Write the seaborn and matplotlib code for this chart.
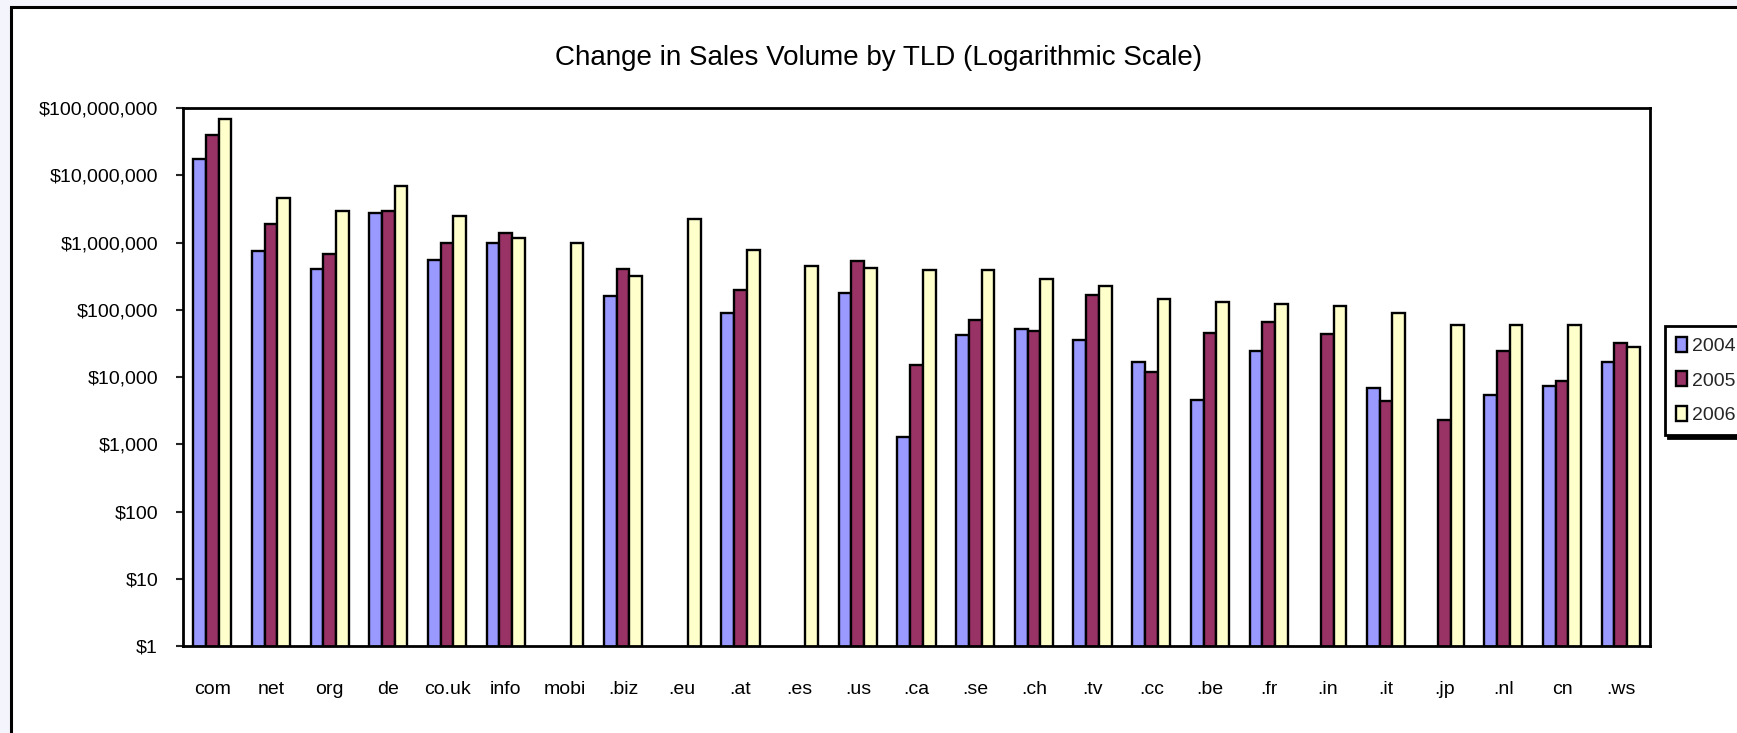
import numpy as np
import pandas as pd
import seaborn as sns
import matplotlib.pyplot as plt
from matplotlib.patches import Rectangle
from matplotlib.ticker import FuncFormatter, NullLocator

# data (NaN = no bar)
tlds = ["com", "net", "org", "de", "co.uk", "info", "mobi", ".biz", ".eu", ".at",
        ".es", ".us", ".ca", ".se", ".ch", ".tv", ".cc", ".be", ".fr", ".in",
        ".it", ".jp", ".nl", "cn", ".ws"]
years = ["2004", "2005", "2006"]
sales_2004 = [1.73e7, 7.4e5, 4.0e5, 2.74e6, 5.4e5, 1.0e6, np.nan, 1.6e5, np.nan, 8.9e4,
              np.nan, 1.77e5, 1.3e3, 4.2e4, 5.2e4, 3.5e4, 1.66e4, 4.5e3, 2.4e4, np.nan,
              6.9e3, np.nan, 5.4e3, 7.3e3, 1.7e4]
sales_2005 = [4.0e7, 1.86e6, 6.8e5, 2.94e6, 1.0e6, 1.38e6, np.nan, 4.0e5, np.nan, 1.94e5,
              np.nan, 5.3e5, 1.53e4, 7.0e4, 4.8e4, 1.67e5, 1.2e4, 4.5e4, 6.5e4, 4.4e4,
              4.4e3, 2.3e3, 2.4e4, 8.7e3, 3.2e4]
sales_2006 = [6.85e7, 4.6e6, 2.94e6, 6.9e6, 2.5e6, 1.16e6, 1.0e6, 3.2e5, 2.2e6, 7.8e5,
              4.5e5, 4.2e5, 3.9e5, 3.9e5, 2.9e5, 2.27e5, 1.45e5, 1.3e5, 1.2e5, 1.12e5,
              8.9e4, 6.0e4, 6.0e4, 6.0e4, 2.76e4]
colors = ["#9999ff", "#993366", "#ffffcc"]

df = pd.DataFrame({"tld": tlds, "2004": sales_2004, "2005": sales_2005, "2006": sales_2006})
df = df.melt(id_vars="tld", var_name="year", value_name="sales").dropna()

sns.set_style("white")
plt.rcParams["font.family"] = ["Liberation Sans", "DejaVu Sans"]

fig = plt.figure(figsize=(17.37, 7.33), dpi=100, facecolor="#f4f4fc")
# chart area frame (runs off the right/bottom edge like the screenshot)
fig.patches.append(Rectangle((11 / 1737, -0.05), 1.1, 1 - 7 / 733 + 0.05,
                             transform=fig.transFigure, facecolor="white",
                             edgecolor="black", linewidth=2.2, zorder=-5))

ax = fig.add_axes([183 / 1737, 87 / 733, (1650 - 183) / 1737, (646 - 108) / 733])
ax.set_zorder(2)
sns.barplot(data=df, x="tld", y="sales", hue="year", order=tlds, hue_order=years,
            palette=colors, width=0.65, edgecolor="black", linewidth=1.7,
            errorbar=None, saturation=1, ax=ax)
ax.set_yscale("log")
ax.set_ylim(1, 1e8)
ax.set_xlim(-0.5, len(tlds) - 0.5)
ax.yaxis.set_minor_locator(NullLocator())
ax.yaxis.set_major_formatter(FuncFormatter(lambda v, p: f"${v:,.0f}"))
ax.set_xlabel("")
ax.set_ylabel("")
ax.set_facecolor("white")
for s in ax.spines.values():
    s.set_color("black")
    s.set_linewidth(2)
ax.tick_params(axis="y", left=True, length=5, width=1.5, pad=13, labelsize=14,
               labelcolor="black")
ax.tick_params(axis="x", bottom=False, pad=22, labelsize=14, labelcolor="black")

fig.text(0.506, 1 - 58 / 733, "Change in Sales Volume by TLD (Logarithmic Scale)",
         ha="center", va="center", fontsize=20, color="black")

handles, labels = ax.get_legend_handles_labels()
ax.legend_.remove()
leg = fig.legend(handles, labels, loc="upper left", bbox_to_anchor=(1665 / 1737, 1 - 326 / 733),
                 frameon=True, fancybox=False, shadow={"color": "black", "alpha": 1},
                 edgecolor="black", fontsize=14, handlelength=0.6, handleheight=0.8,
                 handletextpad=0.25, labelspacing=0.85, borderpad=0.55, borderaxespad=0)
leg.get_frame().set_linewidth(2)
leg.set_zorder(5)

fig.savefig("out.png", dpi=100, facecolor=fig.get_facecolor())
